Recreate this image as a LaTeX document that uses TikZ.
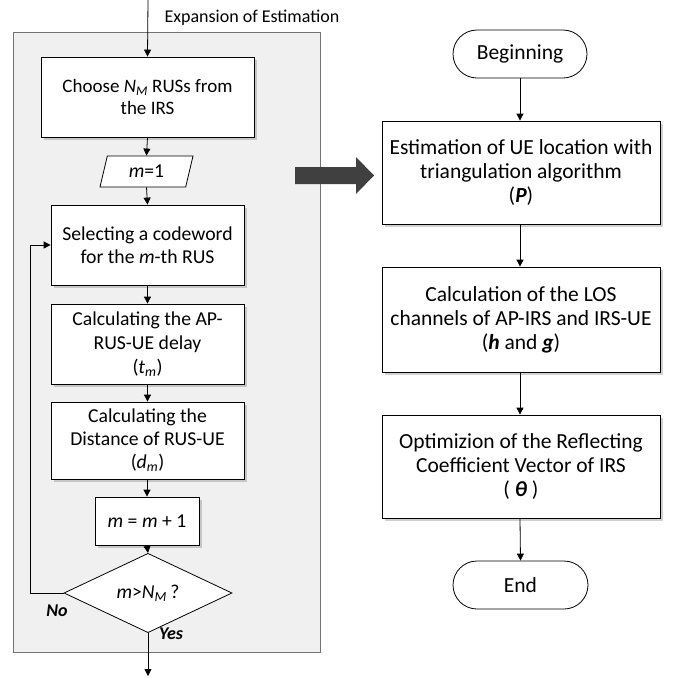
\documentclass[tikz,border=0pt]{standalone}
\usepackage{fontspec}
\setmainfont{Carlito}
\usetikzlibrary{shapes.geometric,shapes.misc,shadows,arrows.meta}
\begin{document}
\begin{tikzpicture}[x=1pt,y=-1pt,
  txt/.style={font=\fontsize{19.7}{23}\selectfont},
  rtxt/.style={font=\fontsize{21.5}{24}\selectfont},
  shad/.style={drop shadow={shadow xshift=2.5pt, shadow yshift=-2.5pt, opacity=0.3, fill=black!60}},
  box/.style={draw, line width=0.8pt, fill=white, align=center, inner sep=0pt, txt, shad},
  term/.style={draw, line width=0.8pt, fill=white, rounded rectangle, inner sep=0pt, rtxt},
  arr/.style={line width=0.8pt, -{Triangle[length=7pt,width=7pt]}},
  lbl/.style={font=\fontsize{18}{20}\selectfont\bfseries\itshape},
]
\useasboundingbox (0,0) rectangle (673,681);
% container
\node[draw=black!55, fill=black!6, line width=1pt, minimum width=307pt, minimum height=620pt, inner sep=0pt] (cont) at (166.5,342) {};
% left column
\node[box, minimum width=213pt, minimum height=80pt, font=\fontsize{19}{22}\selectfont] (b1) at (147.5,97) {Choose \textit{N}\textsubscript{\textit{M}} RUSs from\\the IRS};
\node[draw, line width=0.8pt, fill=white, trapezium, trapezium left angle=60, trapezium right angle=120, trapezium stretches body, minimum width=93pt, minimum height=31pt, inner sep=0pt, txt] (p1) at (146.5,171.5) {\textit{m}=1};
\node[box, minimum width=193pt, minimum height=80pt] (b2) at (147.5,245) {Selecting a codeword\\for the \textit{m}-th RUS};
\node[box, minimum width=193pt, minimum height=80pt, font=\fontsize{19.7}{24}\selectfont] (b3) at (147.5,344) {Calculating the AP-\\RUS-UE delay\\(\textit{t}\textsubscript{\textit{m}})};
\node[box, minimum width=193pt, minimum height=77pt] (b4) at (147.5,440.5) {Calculating the\\Distance of RUS-UE\\(\textit{d}\textsubscript{\textit{m}})};
\node[box, minimum width=104pt, minimum height=48pt] (b5) at (147,521) {\textit{m} = \textit{m} + 1};
\node[draw, line width=0.8pt, fill=white, diamond, minimum width=168pt, minimum height=58pt, inner sep=0pt, txt] (d1) at (148,593) {\textit{m}>\textit{N}\textsubscript{\textit{M}}\,?};
\coordinate (in) at (148,0);
\coordinate (out) at (148,676);
\draw[arr] (in) -- (b1.north);
\node[anchor=west, font=\fontsize{18}{20}\selectfont] (exp) at (161,18) {Expansion of Estimation};
\draw[arr] (b1.south) -- (p1.north);
\draw[arr] (p1.south) -- (b2.north);
\draw[arr] (b2.south) -- (b3.north);
\draw[arr] (b3.south) -- (b4.north);
\draw[arr] (b4.south -| b5.north) -- (b5.north);
\draw[arr] (b5.south) -- (d1.north);
\draw[arr] (d1.south) -- (out);
\draw[arr] (d1.west) -- (30,593) |- (b2.west);
\node[lbl] (no) at (57,611) {No};
\node[lbl] (yes) at (171,634) {Yes};
% big arrow
\fill[black!75] (295,167) -- (356,167) -- (356,157) -- (374,175.5) -- (356,194) -- (356,184) -- (295,184) -- cycle;
% right column
\node[term, minimum width=134pt, minimum height=48pt] (beg) at (520,54) {Beginning};
\node[box, minimum width=278pt, minimum height=103pt, rtxt] (r1) at (521,172.5) {Estimation of UE location with\\triangulation algorithm\\(\textbf{\textit{P}})};
\node[box, minimum width=278pt, minimum height=105pt, rtxt] (r2) at (521,319.5) {Calculation of the LOS\\channels of AP-IRS and IRS-UE\\(\textbf{\textit{h}} and \textbf{\textit{g}})};
\node[box, minimum width=278pt, minimum height=103pt, rtxt] (r3) at (521,466.5) {Optimizion of the Reflecting\\Coefficient Vector of IRS\\( \textbf{\textit{θ}} )};
\node[term, minimum width=135pt, minimum height=48pt] (end) at (520.5,585) {End};
\draw[arr] (beg.south) -- (beg.south |- r1.north);
\draw[arr] (r1.south -| beg.south) -- (beg.south |- r2.north);
\draw[arr] (r2.south -| beg.south) -- (beg.south |- r3.north);
\draw[arr] (r3.south -| beg.south) -- (end.north);
\end{tikzpicture}
\end{document}
